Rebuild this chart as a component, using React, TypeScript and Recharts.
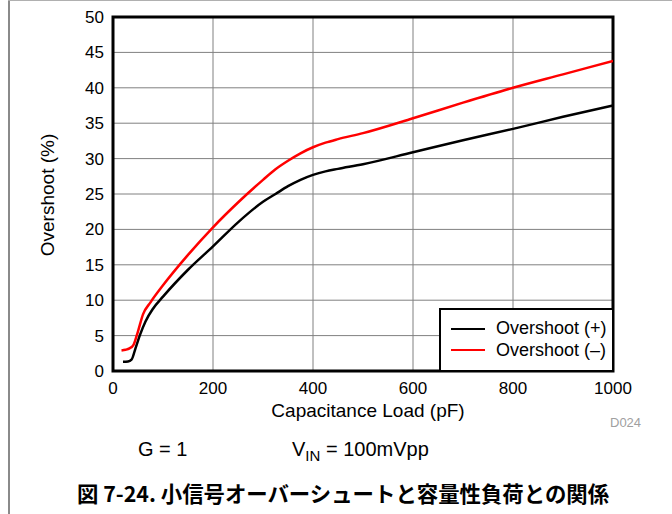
import React from "react";
import { LineChart, Line, XAxis, YAxis, CartesianGrid, ReferenceArea } from "recharts";

// capacitance load (pF) and overshoot (%)
const posLoad = [20, 30, 37, 45, 54, 65, 80, 100, 150, 200, 250, 300, 325, 350, 375, 400, 425, 450, 500, 600, 700, 800, 900, 1000];
const posOvershoot = [1.3, 1.35, 1.6, 3.2, 5.1, 7.0, 8.8, 10.5, 14.3, 17.6, 21.0, 23.9, 25.0, 26.1, 27.0, 27.7, 28.2, 28.55, 29.2, 30.9, 32.6, 34.2, 35.9, 37.5];

const negLoad = [17, 25, 33, 41, 50, 60, 75, 100, 150, 200, 250, 300, 325, 350, 375, 400, 425, 450, 500, 600, 700, 800, 900, 1000];
const negOvershoot = [2.9, 3.0, 3.2, 3.7, 5.6, 8.0, 9.7, 12.1, 16.4, 20.3, 23.8, 27.0, 28.5, 29.7, 30.75, 31.6, 32.25, 32.75, 33.6, 35.7, 37.9, 40.0, 41.9, 43.8];

const xTicks = [0, 200, 400, 600, 800, 1000];
const yTicks = [0, 5, 10, 15, 20, 25, 30, 35, 40, 45, 50];

const seriesNames = ["Overshoot (+)", "Overshoot (\u2013)"];
const seriesColors = ["#000000", "#ff0000"];

const posData = posLoad.map((x, i) => ({ x, y: posOvershoot[i] }));
const negData = negLoad.map((x, i) => ({ x, y: negOvershoot[i] }));

const font = "'Liberation Sans', Arial, Helvetica, sans-serif";

function LegendBox() {
  return (
    <div
      style={{
        position: "absolute",
        left: 439,
        top: 308,
        width: 175,
        height: 64,
        border: "2px solid #000",
        background: "#fff",
        fontFamily: font,
        fontSize: 18,
        color: "#000",
        boxSizing: "border-box",
        paddingTop: 8,
      }}
    >
      {seriesNames.map((name, i) => (
        <div key={name} style={{ display: "flex", alignItems: "center", height: 21.5 }}>
          <div style={{ width: 34, height: 2, background: seriesColors[i], marginLeft: 10, marginRight: 11 }} />
          <span>{name}</span>
        </div>
      ))}
    </div>
  );
}

export default function App() {
  return (
    <div style={{ position: "absolute", left: 0, top: 0, width: 672, height: 514, background: "#fff" }}>
      <div style={{ position: "absolute", left: 8, top: 0, width: 2, height: 514, background: "#8a8a8a" }} />
      <div style={{ position: "absolute", left: 8, top: 0, width: 664, height: 1, background: "#b0b0b0" }} />
      <LineChart
        width={672}
        height={514}
        margin={{ top: 17, right: 59, bottom: 113, left: 60 }}
        style={{ position: "absolute", left: 0, top: 0 }}
      >
        <CartesianGrid stroke="#808080" strokeWidth={1} horizontalValues={yTicks} verticalValues={xTicks} />
        <XAxis
          type="number"
          dataKey="x"
          domain={[0, 1000]}
          ticks={xTicks}
          height={30}
          tickLine={false}
          axisLine={false}
          tick={{ fill: "#000", fontSize: 17, fontFamily: font }}
          tickMargin={5}
          allowDataOverflow
        />
        <YAxis
          type="number"
          dataKey="y"
          domain={[0, 50]}
          ticks={yTicks}
          width={53}
          tickLine={false}
          axisLine={false}
          tick={{ fill: "#000", fontSize: 17, fontFamily: font }}
          tickMargin={3}
          allowDataOverflow
        />
        <ReferenceArea x1={0} x2={1000} y1={0} y2={50} fill="none" stroke="#000" strokeWidth={3} ifOverflow="visible" />
        <Line data={posData} dataKey="y" name={seriesNames[0]} type="monotone" stroke={seriesColors[0]} strokeWidth={2.5} dot={false} isAnimationActive={false} />
        <Line data={negData} dataKey="y" name={seriesNames[1]} type="monotone" stroke={seriesColors[1]} strokeWidth={2.5} dot={false} isAnimationActive={false} />
      </LineChart>
      <LegendBox />
      <div
        style={{
          position: "absolute",
          left: 48,
          top: 195,
          transform: "translate(-50%, -50%) rotate(-90deg)",
          fontFamily: font,
          fontSize: 19,
          whiteSpace: "nowrap",
        }}
      >
        Overshoot (%)
      </div>
      <div
        style={{
          position: "absolute",
          left: 368,
          top: 401,
          transform: "translateX(-50%)",
          fontFamily: font,
          fontSize: 19,
          lineHeight: "19px",
          whiteSpace: "nowrap",
        }}
      >
        Capacitance Load (pF)
      </div>
      <div style={{ position: "absolute", left: 610, top: 415, fontFamily: font, fontSize: 13, color: "#a0a0a0" }}>D024</div>
      <div style={{ position: "absolute", left: 138, top: 438, fontFamily: font, fontSize: 20, whiteSpace: "nowrap" }}>G = 1</div>
      <div style={{ position: "absolute", left: 292, top: 438, fontFamily: font, fontSize: 20, whiteSpace: "nowrap" }}>
        V<sub style={{ fontSize: 15, verticalAlign: -5 }}>IN</sub> = 100mVpp
      </div>
      <div
        style={{
          position: "absolute",
          left: 343,
          top: 477,
          transform: "translateX(-50%)",
          fontFamily: "'Noto Sans CJK JP', 'Liberation Sans', sans-serif",
          fontWeight: 700,
          fontSize: 21.4,
          whiteSpace: "nowrap",
        }}
      >
        図 7-24. 小信号オーバーシュートと容量性負荷との関係
      </div>
    </div>
  );
}
